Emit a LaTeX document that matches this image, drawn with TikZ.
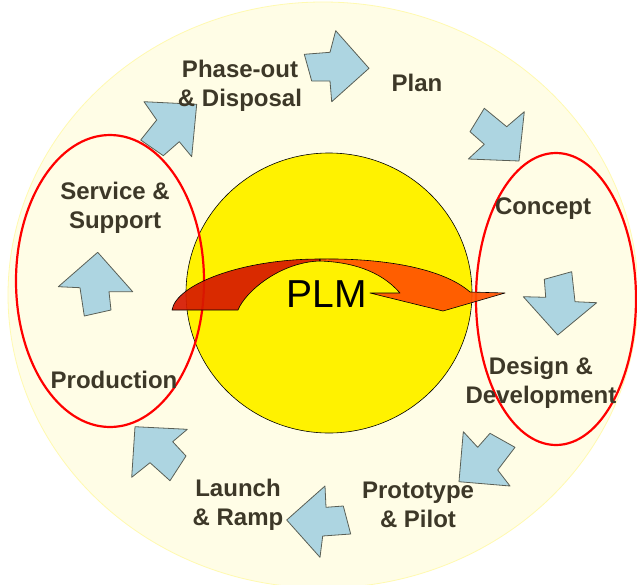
\documentclass[tikz,border=0pt]{standalone}
\usepackage{fontspec}
\setmainfont{Liberation Sans}
\definecolor{pale}{HTML}{FFFDE6}
\definecolor{paleedge}{HTML}{FFFAB0}
\definecolor{arrowblue}{HTML}{ADD5E1}
\definecolor{arrowedge}{HTML}{5A5F55}
\definecolor{labelc}{HTML}{3D3828}
\definecolor{plmdark}{HTML}{D61A00}
\definecolor{plmorange}{HTML}{FF5200}
\begin{document}
\begin{tikzpicture}[x=1pt,y=-1pt,
  lbl/.style={font=\bfseries\fontsize{24}{29}\selectfont, text=labelc, align=center, inner sep=0pt},
  blockarrow/.style={fill=arrowblue, draw=arrowedge, line width=0.8pt, line join=round},
  ring/.style={draw=red, line width=2.2pt},
  plmpart/.style={draw=black, line width=0.6pt, fill opacity=0.92, line join=round}]
\useasboundingbox (0,0) rectangle (637,584);
\clip (0,0) rectangle (637,584);
% background
\fill[white] (0,0) rectangle (637,584);
\filldraw[fill=pale, draw=paleedge, line width=0.8pt] (323,295) ellipse [x radius=315pt, y radius=293pt];
% core circle
\filldraw[fill=yellow, draw=black, line width=0.6pt] (329,293) ellipse [x radius=143pt, y radius=140pt];
% red rings
\draw[ring] (110,281) ellipse [x radius=94pt, y radius=146pt];
\draw[ring] (556,299) ellipse [x radius=80pt, y radius=146pt];
% central curved arrow
\filldraw[plmpart, fill=plmdark] (172,310) .. controls (176,285) and (240,259) .. (320,259)
  -- (320,261) .. controls (280,262) and (245,292) .. (238,310) -- cycle;
\filldraw[plmpart, fill=plmorange] (320,259) .. controls (390,258) and (445,270) .. (470,292)
  -- (505,293) -- (443,311) -- (370,293) -- (400,293)
  .. controls (380,270) and (350,262) .. (320,261) -- cycle;
\node[font=\fontsize{39}{44}\selectfont, inner sep=0pt] (plm) at (327,294) {PLM};
% cycle arrows
\filldraw[blockarrow] (304.3,54.3) -- (330,52.3) -- (335.7,30.7) -- (369,68.3) -- (331.7,101.7) -- (330,81) -- (311.7,81) -- cycle;
\filldraw[blockarrow] (484.3,108.3) -- (506.7,126.7) -- (524.3,111.7) -- (519,161) -- (468.3,159) -- (484.3,144.3) -- (470,131.7) -- cycle;
\filldraw[blockarrow] (544.3,279.3) -- (571.7,271.7) -- (575,301.7) -- (596.7,302.7) -- (557.7,335) -- (523.3,296.7) -- (545.7,297.3) -- cycle;
\filldraw[blockarrow] (463.3,431.7) -- (477.7,447.3) -- (490,433.3) -- (515,447.3) -- (497.7,470) -- (510,486) -- (459,481.7) -- cycle;
\filldraw[blockarrow] (325,486) -- (326,507.3) -- (343.3,506) -- (350.7,534) -- (322.7,536) -- (320,557.3) -- (286.7,520) -- cycle;
\filldraw[blockarrow] (135,426.7) -- (187.3,429.3) -- (172.7,441.7) -- (186,456) -- (170,480.7) -- (150,462.7) -- (131.7,477.3) -- cycle;
\filldraw[blockarrow] (97.7,252.3) -- (132.7,291.7) -- (109,291.7) -- (111,310) -- (84.3,316) -- (80,287.7) -- (58.3,286.7) -- cycle;
\filldraw[blockarrow] (144,101.7) -- (196.7,104.3) -- (191.7,156.7) -- (179.3,141.7) -- (163.3,155.7) -- (140.7,140) -- (156.7,120) -- cycle;
% labels
\node[lbl] (phase) at (240,86) {Phase-out\\\& Disposal};
\node[lbl] (plan) at (417,83) {Plan};
\node[lbl] (concept) at (543,209) {Concept};
\node[lbl] (design) at (541,383) {Design \&\\Development};
\node[lbl] (proto) at (418,505) {Prototype\\\& Pilot};
\node[lbl] (launch) at (238,505) {Launch\\\& Ramp};
\node[lbl] (prod) at (114,380) {Production};
\node[lbl] (service) at (115,208) {Service \&\\Support};
\end{tikzpicture}
\end{document}
